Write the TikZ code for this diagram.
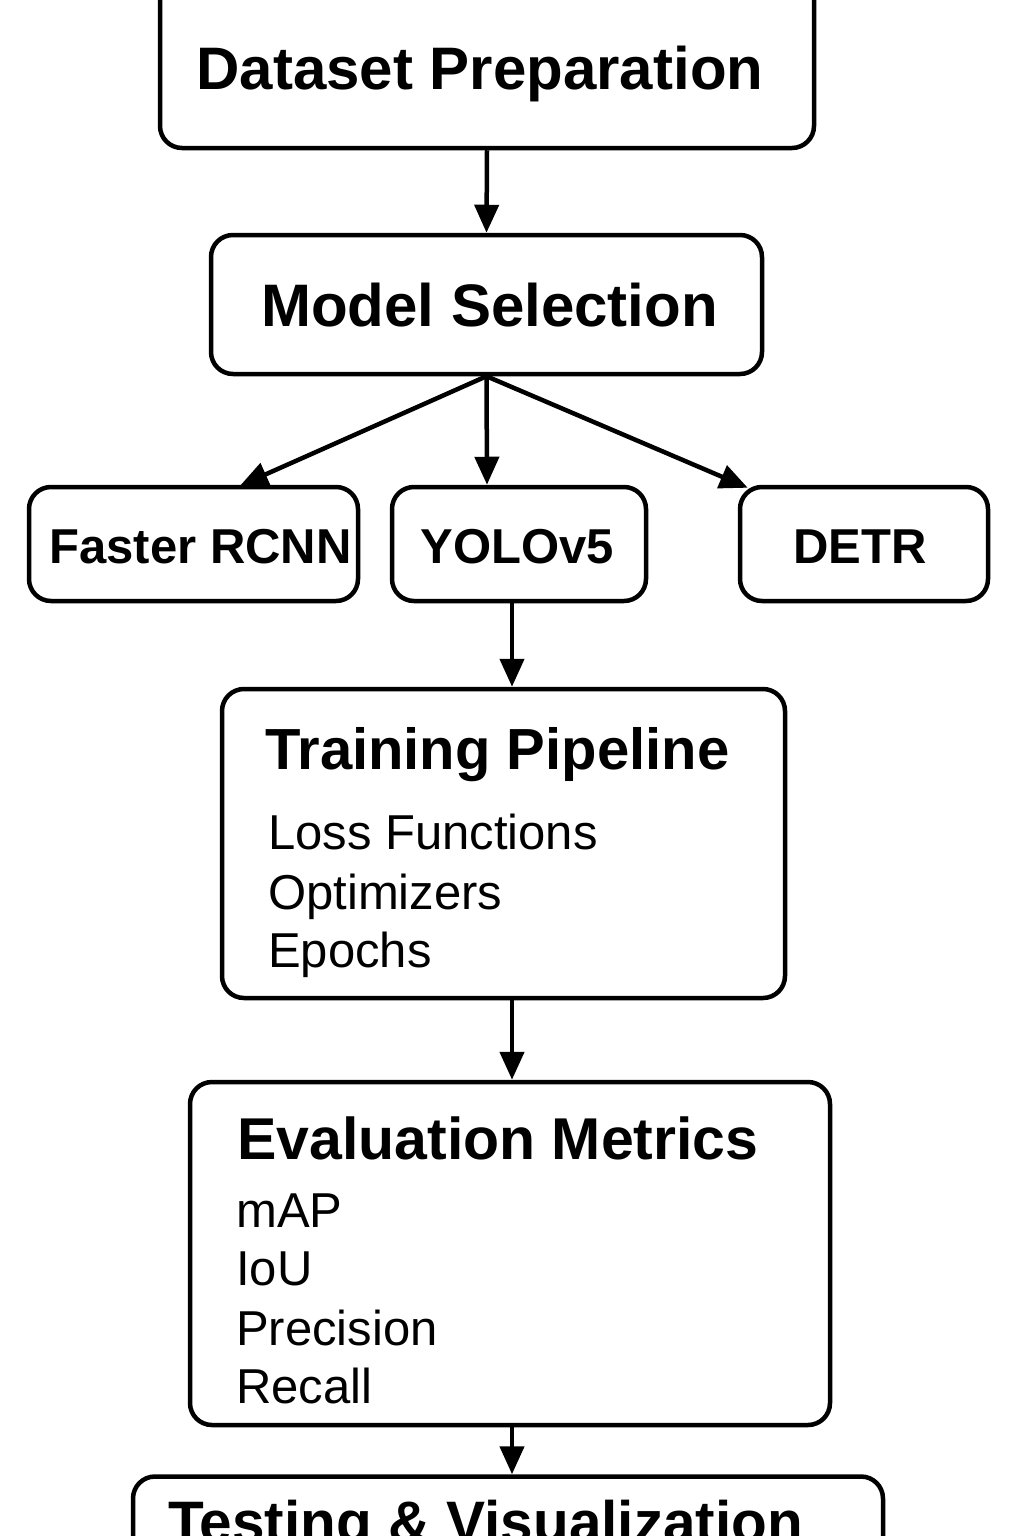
\documentclass[tikz,border=0pt]{standalone}
\usepackage{fontspec}
\setmainfont{Liberation Sans}
\usetikzlibrary{arrows.meta,calc}
\tikzset{
  box/.style={draw=black, line width=4.5pt, rounded corners=22pt, inner sep=0pt, fill=white},
  arr/.style={draw=black, line width=4.5pt, -{Triangle[length=28pt,width=24pt]}},
  ttl/.style={inner sep=0pt, font=\fontsize{60}{70}\selectfont\bfseries},
  ttlsmall/.style={inner sep=0pt, font=\fontsize{49}{58}\selectfont\bfseries},
  item/.style={inner sep=0pt, anchor=base west, font=\fontsize{49}{58}\selectfont},
}
\begin{document}
\begin{tikzpicture}[x=1pt,y=-1pt]
\useasboundingbox (0,0) rectangle (1024,1536);
\fill[white] (0,0) rectangle (1024,1536);
% boxes
\node[box, minimum width=654, minimum height=188] (dp) at (487,54) {};
\node[box, minimum width=551, minimum height=139] (ms) at (486.5,304.5) {};
\node[box, minimum width=329, minimum height=114] (fr) at (193.5,544) {};
\node[box, minimum width=254, minimum height=114] (yo) at (519,544) {};
\node[box, minimum width=248, minimum height=114] (dt) at (864,544) {};
\node[box, minimum width=563, minimum height=309] (tp) at (503.5,843.5) {};
\node[box, minimum width=640, minimum height=343] (ev) at (510,1253.5) {};
\node[box, minimum width=750, minimum height=163] (ts) at (508,1558) {};
\coordinate (axis) at (512,0);
% texts
\node[ttl, anchor=base] (dpt) at (480,90) {Dataset Preparation};
\node[ttl, anchor=base] (mst) at (489.5,326) {Model Selection};
\node[ttlsmall, anchor=base] (frt) at (200.5,563) {Faster RCNN};
\node[ttlsmall, anchor=base] (yot) at (517,563) {YOLOv5};
\node[ttlsmall, anchor=base] (dtt) at (860,563) {DETR};
\node[ttl, anchor=base west, font=\fontsize{58}{68}\selectfont\bfseries] (tpt) at (265,769) {Training Pipeline};
\node[item] (tp1) at (268,849) {Loss Functions};
\node[item] (tp2) at (268,909) {Optimizers};
\node[item] (tp3) at (268,967) {Epochs};
\node[ttl, anchor=base west, font=\fontsize{59}{68}\selectfont\bfseries] (evt) at (237,1159) {Evaluation Metrics};
\node[item] (ev1) at (236,1227) {mAP};
\node[item] (ev2) at (236,1285) {IoU};
\node[item] (ev3) at (236,1345) {Precision};
\node[item] (ev4) at (236,1403) {Recall};
\node[ttl, anchor=base west, font=\fontsize{58.5}{68}\selectfont\bfseries] (tst) at (168,1542) {Testing \& Visualization};
% connectors
\draw[arr] (dp.south) -- (ms.north);
\draw[arr] (ms.south) -- ($(fr.north)+(46.5,1)$);
\draw[arr] (ms.south) -- ($(yo.north)+(-32,0)$);
\draw[arr] (ms.south) -- ($(dt.north west)+(10,3)$);
\draw[arr] (yo.south -| axis) -- (tp.north -| axis);
\draw[arr] (tp.south -| axis) -- (ev.north -| axis);
\draw[arr] (ev.south -| axis) -- (ts.north -| axis);
\end{tikzpicture}
\end{document}
